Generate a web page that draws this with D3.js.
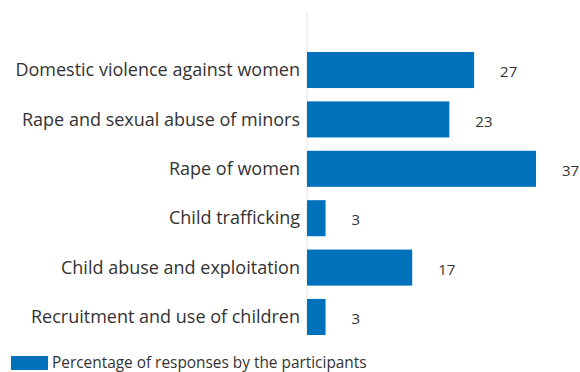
<!DOCTYPE html>
<html>
<head>
<meta charset="utf-8">
<script src="https://cdn.jsdelivr.net/npm/d3@7"></script>
<style>
  body { margin: 0; background: #fff; }
  text { font-family: "Open Sans", sans-serif; fill: #333; }
</style>
</head>
<body>
<div id="chart"></div>
<script>
var categories = [
  "Domestic violence against women",
  "Rape and sexual abuse of minors",
  "Rape of women",
  "Child trafficking",
  "Child abuse and exploitation",
  "Recruitment and use of children"
];
var values = [27, 23, 37, 3, 17, 3];
var seriesName = "Percentage of responses by the participants";

var width = 580, height = 372;
var margin = {top: 12, right: 44, bottom: 37, left: 307};
var barColor = "#0072bc";

var svg = d3.select("#chart").append("svg")
    .attr("width", width)
    .attr("height", height);

var x = d3.scaleLinear().domain([0, 37]).range([0, 229]);
var y = d3.scaleBand().domain(categories)
    .range([52, 335])
    .paddingInner(0.27).paddingOuter(0);

var g = svg.append("g").attr("transform", "translate(" + margin.left + ",0)");

// axis line
g.append("line")
    .attr("x1", 0).attr("x2", 0)
    .attr("y1", margin.top).attr("y2", height - margin.bottom)
    .attr("stroke", "#e6e6e6").attr("stroke-width", 1);

g.selectAll(".bar")
    .data(values)
  .enter().append("rect")
    .attr("class", "bar")
    .attr("x", 0)
    .attr("y", function(d, i) { return y(categories[i]); })
    .attr("width", function(d) { return x(d); })
    .attr("height", y.bandwidth())
    .attr("fill", barColor);

g.selectAll(".val")
    .data(values)
  .enter().append("text")
    .attr("class", "val")
    .attr("x", function(d) { return x(d) + 26; })
    .attr("y", function(d, i) { return y(categories[i]) + y.bandwidth() / 2 + 2; })
    .attr("dy", "0.35em")
    .style("font-size", "15px")
    .text(function(d) { return d; });

g.selectAll(".cat")
    .data(categories)
  .enter().append("text")
    .attr("class", "cat")
    .attr("x", -7)
    .attr("y", function(d) { return y(d) + y.bandwidth() / 2; })
    .attr("dy", "0.35em")
    .attr("text-anchor", "end")
    .style("font-size", "18px")
    .text(function(d) { return d; });

// legend
var lg = svg.append("g").attr("transform", "translate(11,356)");
lg.append("rect").attr("width", 37).attr("height", 14).attr("fill", barColor);
lg.append("text").attr("x", 41).attr("y", 7).attr("dy", "0.35em")
    .style("font-size", "15.4px").text(seriesName);
</script>
</body>
</html>
